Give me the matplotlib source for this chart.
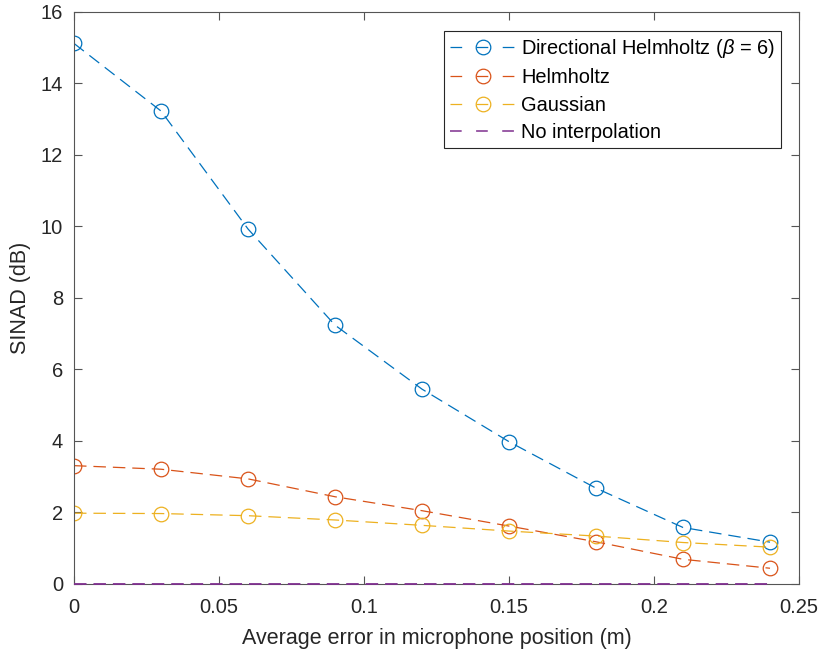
import numpy as np
import matplotlib.pyplot as plt
from matplotlib.lines import Line2D

plt.rcParams['font.family'] = ['Liberation Sans', 'DejaVu Sans']
plt.rcParams['mathtext.fontset'] = 'custom'
plt.rcParams['mathtext.it'] = 'Liberation Sans:italic'
plt.rcParams['mathtext.rm'] = 'Liberation Sans'
plt.rcParams['lines.scale_dashes'] = False

# average position error (m)
pos_error = [0, 0.03, 0.06, 0.09, 0.12, 0.15, 0.18, 0.21, 0.24]

# SINAD in dB for each interpolation method
sinad_dir_helmholtz = [15.12, 13.23, 9.93, 7.24, 5.45, 3.98, 2.68, 1.58, 1.17]
sinad_helmholtz = [3.31, 3.21, 2.94, 2.44, 2.05, 1.62, 1.18, 0.69, 0.44]
sinad_gaussian = [1.98, 1.97, 1.91, 1.79, 1.64, 1.48, 1.34, 1.16, 1.03]
sinad_none = [0, 0, 0, 0, 0, 0, 0, 0, 0]

labels = [r'Directional Helmholtz ($\beta$ = 6)', 'Helmholtz', 'Gaussian', 'No interpolation']
colors = ['#0072BD', '#D95319', '#EDB120', '#7E2F8E']

fig = plt.figure(figsize=(8.24, 6.58), dpi=100)
ax = fig.add_axes([0.0898, 0.1125, 0.8799, 0.8693])

dash = (9, 5)
series = [sinad_dir_helmholtz, sinad_helmholtz, sinad_gaussian]
for vals, col in zip(series, colors[:3]):
    ax.plot(pos_error, vals, color=col, lw=0.9, dashes=dash, marker='o',
            ms=10.5, mfc='none', mec=col, mew=0.9)
ax.plot(pos_error, sinad_none, color=colors[3], lw=1.3, dashes=dash,
        zorder=3, clip_on=False)

ax.set_xlim(0, 0.25)
ax.set_ylim(0, 16)
ax.set_xticks([0, 0.05, 0.1, 0.15, 0.2, 0.25])
ax.set_xticklabels(['0', '0.05', '0.1', '0.15', '0.2', '0.25'])
ax.set_yticks(range(0, 17, 2))

axcol = '#262626'
for s in ax.spines.values():
    s.set_color('#555555')
    s.set_linewidth(0.8)
ax.tick_params(direction='in', top=True, right=True, length=6, width=0.8,
               color='#555555', labelsize=14.5, labelcolor=axcol)
ax.tick_params(axis='x', pad=10)
ax.tick_params(axis='y', pad=8)
ax.set_xlabel('Average error in microphone position (m)', fontsize=15.5, color=axcol, labelpad=8)
ax.set_ylabel('SINAD (dB)', fontsize=15.5, color=axcol, labelpad=7)

# legend entries: dash, marker, dash
leg_dash = (8.4, 10.4)
handles = []
for col in colors[:3]:
    handles.append(Line2D([], [], color=col, lw=0.9, dashes=leg_dash, marker='o',
                          ms=10.5, mfc='none', mec=col, mew=0.9))
handles.append(Line2D([], [], color=colors[3], lw=1.1, dashes=leg_dash))

leg = ax.legend(handles, labels, loc='upper right', bbox_to_anchor=(0.9755, 0.967),
                fontsize=14.4, handlelength=3.3, handletextpad=0.25, labelspacing=0.42,
                borderpad=0.3, borderaxespad=0, fancybox=False, framealpha=1)
leg.get_frame().set_edgecolor(axcol)
leg.get_frame().set_linewidth(0.8)

fig.savefig('out.png', dpi=100)
